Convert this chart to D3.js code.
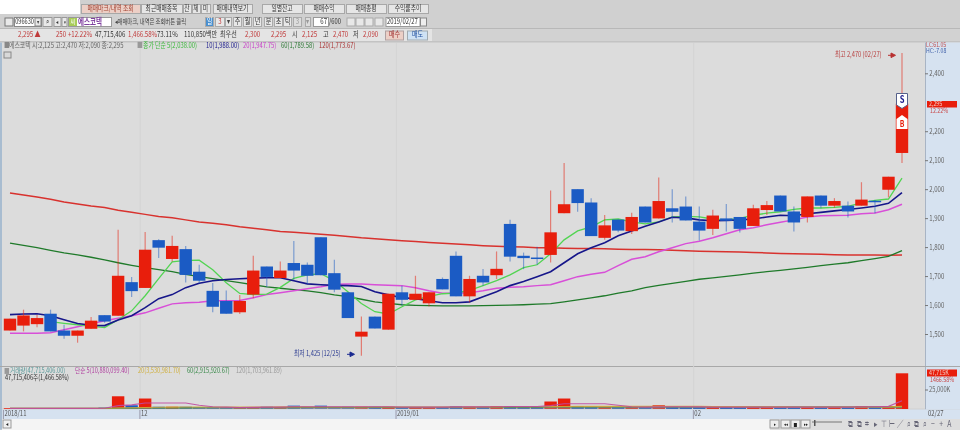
<!DOCTYPE html>
<html><head><meta charset="utf-8">
<script src="https://cdnjs.cloudflare.com/ajax/libs/d3/7.8.5/d3.min.js"></script>
<style>
html,body{margin:0;padding:0;background:#d0d0d0;overflow:hidden}
svg{display:block;filter:blur(0.3px)}
text{font-family:"Noto Sans CJK KR","Noto Sans",sans-serif}
</style></head><body><svg id="c" width="960" height="430"></svg>
<script>
const opens=[1512,1529,1534,1570,1512,1494,1518,1565,1563,1679,1659,1824,1759,1793,1715,1649,1614,1575,1636,1733,1693,1745,1739,1834,1710,1644,1491,1560,1515,1644,1618,1606,1690,1770,1630,1701,1703,1880,1770,1764,1773,1917,2000,1954,1832,1895,1855,1940,1899,1934,1940,1888,1863,1899,1904,1873,1928,1978,1923,1904,1978,1943,1943,1943,1960,1998,2125];
const closes=[1553,1564,1555,1509,1494,1512,1546,1543,1701,1648,1791,1798,1804,1704,1684,1594,1570,1614,1719,1697,1719,1719,1701,1703,1653,1555,1508,1519,1639,1618,1639,1644,1654,1630,1690,1678,1725,1767,1762,1759,1851,1948,1952,1838,1875,1857,1904,1885,1959,1922,1892,1857,1909,1891,1863,1934,1945,1923,1885,1975,1943,1959,1923,1964,1955,2043,2295];
const highs=[1553,1584,1566,1584,1532,1512,1559,1565,1860,1697,1852,1827,1839,1804,1739,1676,1650,1635,1770,1733,1750,1821,1747,1834,1756,1644,1560,1560,1639,1667,1701,1644,1695,1785,1701,1724,1785,1894,1781,1801,1995,2090,2000,1969,1911,1895,1919,1940,2040,2000,1975,1940,1929,1949,1904,1946,1959,1978,1940,1975,1978,1969,1957,2024,1963,2043,2470];
const lows=[1512,1509,1523,1509,1484,1470,1518,1539,1563,1628,1659,1762,1750,1678,1676,1575,1570,1569,1623,1662,1693,1687,1673,1703,1644,1555,1425,1519,1515,1598,1618,1595,1654,1630,1609,1667,1690,1750,1724,1739,1747,1917,1922,1838,1825,1851,1845,1885,1899,1885,1892,1823,1842,1854,1850,1873,1911,1923,1854,1885,1934,1936,1902,1943,1917,1972,2090];
const ma5=[null,null,null,1543,1537,1532,1527,1522,1549,1580,1632,1691,1749,1754,1755,1722,1677,1640,1636,1638,1661,1692,1704,1708,1684,1646,1605,1577,1569,1594,1618,1630,1639,1641,1651,1667,1684,1704,1729,1739,1777,1825,1856,1870,1894,1897,1887,1880,1887,1904,1906,1904,1897,1894,1899,1910,1917,1922,1930,1935,1935,1937,1941,1953,1961,1966,2038];
const ma10=[1567,1569,1570,1563,1549,1536,1530,1529,1548,1563,1591,1622,1636,1660,1675,1684,1688,1691,1693,1694,1694,1684,1673,1670,1668,1667,1664,1646,1635,1625,1622,1615,1608,1608,1611,1629,1646,1667,1681,1698,1715,1746,1777,1798,1815,1839,1856,1872,1887,1903,1901,1894,1891,1892,1894,1897,1904,1910,1908,1915,1920,1925,1930,1935,1941,1951,1988];
const ma20=[1503,1503,1503,1504,1515,1525,1535,1546,1554,1563,1573,1589,1604,1608,1610,1615,1615,1616,1625,1636,1642,1649,1656,1663,1672,1673,1673,1670,1668,1667,1660,1649,1641,1641,1642,1649,1658,1661,1663,1667,1670,1684,1698,1706,1713,1736,1758,1767,1784,1798,1812,1820,1832,1846,1860,1867,1877,1886,1894,1904,1908,1909,1910,1915,1918,1929,1948];
const ma60=[1814,1806,1798,1789,1780,1773,1765,1756,1746,1737,1729,1722,1715,1706,1698,1691,1684,1677,1670,1663,1658,1653,1649,1643,1635,1629,1620,1611,1606,1601,1599,1598,1597,1597,1597,1598,1599,1600,1601,1603,1605,1611,1618,1625,1632,1641,1649,1660,1668,1675,1682,1689,1694,1699,1704,1710,1715,1720,1725,1730,1736,1741,1746,1753,1760,1768,1788];
const ma120=[1987,1980,1973,1965,1956,1949,1942,1937,1927,1920,1913,1906,1901,1894,1887,1882,1877,1870,1865,1860,1854,1851,1848,1844,1841,1837,1832,1829,1825,1822,1819,1816,1813,1811,1808,1805,1803,1801,1800,1798,1798,1796,1795,1795,1794,1793,1792,1792,1791,1789,1787,1786,1785,1784,1783,1781,1780,1778,1777,1776,1775,1774,1773,1773,1773,1772,1773];
const volumes=[1,1,1,1,1,1,1.2,1.8,17,5,14,3,3,3,2,2,2,2,2.5,3,2.5,4.5,3,4.5,3,3,3,3,3,2.5,2.5,2.5,2.5,3.5,3,3,4,4,3,3,10,14,4,3,2.5,2.5,2.5,2.5,5,3,2.5,2.5,2.5,2.5,2.5,2.5,2.5,2.5,2.5,2.5,2.5,2.5,2.5,3.5,3,4,47.7];
const volMa5=[.8,.8,.8,.8,.8,.8,.9,1,4.5,5.5,8,8,8,8,5,3,2.5,2,2.2,2.5,2.5,3,3,3,3,3,3,3,3,2.5,2.5,2.5,2.5,2.8,2.8,2.8,3,3.3,3.3,3.3,4.5,7,7,7,7,5,3,2.5,2.8,3,3,2.8,2.5,2.5,2.5,2.5,2.5,2.5,2.5,2.5,2.5,2.5,2.5,2.8,3,3.5,11];
const volMa20=[.9,.9,.9,.9,.9,.9,.9,1,1.4,1.7,2.1,2.4,2.5,2.6,2.6,2.6,2.6,2.6,2.6,2.6,2.8,2.8,2.8,2.7,2.7,2.7,2.7,2.7,2.7,2.7,2.7,2.7,2.7,2.7,2.7,2.8,2.9,3,3,3,3.2,3.4,3.5,3.5,3.5,3.5,3.5,3.5,3.5,3.5,3.5,3.5,3.4,3.3,3.2,3,2.9,2.8,2.7,2.6,2.6,2.6,2.6,2.6,2.7,2.8,3.5];
const volMa60=[.8,.8,.8,.8,.8,.8,.8,.8,1.1,1.2,1.3,1.4,1.5,1.5,1.6,1.6,1.7,1.7,1.7,1.8,1.9,1.9,2,2,2.1,2.1,2.1,2.2,2.2,2.2,2.2,2.3,2.3,2.3,2.4,2.4,2.4,2.5,2.5,2.5,2.6,2.7,2.7,2.7,2.7,2.8,2.8,2.8,2.8,2.8,2.8,2.8,2.8,2.8,2.8,2.8,2.8,2.8,2.8,2.8,2.8,2.8,2.8,2.8,2.8,2.8,2.9];
const volMa120=[.7,.7,.7,.7,.7,.7,.7,.7,.9,.9,1,1,1,1,1,1,1.1,1.1,1.1,1.1,1.1,1.2,1.2,1.2,1.2,1.2,1.2,1.3,1.3,1.3,1.3,1.3,1.3,1.3,1.4,1.4,1.4,1.4,1.4,1.4,1.5,1.5,1.5,1.5,1.5,1.5,1.5,1.5,1.5,1.6,1.6,1.6,1.6,1.6,1.6,1.6,1.6,1.6,1.6,1.6,1.6,1.6,1.6,1.6,1.6,1.6,1.7];
const priceTicks=[2400,2200,2100,2000,1900,1800,1700,1600,1500];
const dateLabels=[{i:-0.45,t:"2018/11"},{i:9.65,t:"12"},{i:28.6,t:"2019/01"},{i:50.6,t:"02"}];
const topButtons=[["매매마크/내역 조회",81,59,"#eccfc6"],["최근매매종목",141,41,"#e6e6e6"],["잔",183,8,"#e6e6e6"],["체",192,8,"#e6e6e6"],["미",201,9,"#e6e6e6"],["매매내역보기",213,39,"#e6e6e6"],["일별잔고",262,40,"#e6e6e6"],["매매수익",304,40,"#e6e6e6"],["매매총평",346,40,"#e6e6e6"],["수익률추이",388,40,"#e6e6e6"]];
const periodButtons=[["일",205,8,"#4a90d0","#fff"],["3",215,9,"#e8e8e8","#c03030"],["▾",225,6,"#e8e8e8","#444"],["주",233,8,"#e8e8e8","#333"],["월",243,8,"#e8e8e8","#333"],["년",253,8,"#e8e8e8","#333"],["분",264,8,"#e8e8e8","#333"],["초",274,8,"#e8e8e8","#333"],["틱",283,8,"#e8e8e8","#333"],["3",293,8,"#dcdcdc","#999"],["▾",305,5,"#dcdcdc","#999"]];
const quoteTexts=[["2,295 ▲",18,"#c03a3a"],["250",56,"#c03a3a"],["+12.22%",68,"#c03a3a"],["47,715,406",95,"#333"],["1,466.58%",128,"#c03a3a"],["73.11%",157,"#333"],["110,850백만",184,"#333"],["최우선",220,"#333"],["2,300",245,"#c03a3a"],["2,295",271,"#c03a3a"],["시",292,"#333"],["2,125",302,"#c03a3a"],["고",323,"#333"],["2,470",333,"#c03a3a"],["저",353,"#333"],["2,090",363,"#c03a3a"]];
const priceLegend=[["■",137,"#999"],["종가 단순 5(2,038.00)",143,"#3cb83c"],["10(1,988.00)",206,"#1a1a8c"],["20(1,947.75)",243,"#c840c8"],["60(1,789.58)",281,"#2e7a36"],["120(1,773.67)",319,"#a83030"]];
const volLegend=[["■",4,"#999"],["거래량(47,715,406.00)",10,"#5a9a9a"],["단순 5(10,880,099.40)",75,"#b040a0"],["20(3,530,981.70)",138,"#d0b040"],["60(2,915,920.67)",187,"#3a8a4a"],["120(1,703,961.89)",236,"#999"]];

const svg=d3.select("#c");
const U="#e81e0c",D="#1b5bc4",SX=0.76;
const x=d3.scaleLinear().domain([0,66]).range([10,902]);
const y=d3.scaleLinear().domain([1500,2400]).range([334,73.3]);
const yV=d3.scaleLinear().domain([0,47.7]).range([409,373.3]);

function rect(g,a,b,w,h,f,s){return g.append("rect").attr("x",a).attr("y",b).attr("width",w).attr("height",h).attr("fill",f).attr("stroke",s||"none");}
function txt(g,t,a,b,f,sz,an,w){return g.append("text").text(t).attr("transform",`translate(${a},${b}) scale(${SX},1)`).attr("fill",f).attr("font-size",sz||8).attr("text-anchor",an||"start").attr("font-weight",w||400).attr("dominant-baseline","middle");}

// chrome
rect(svg,0,0,960,430,"#d0d0d0");
rect(svg,0,0,80,14,"#ffffff");
rect(svg,0,28,960,1,"#b8b8b8");
rect(svg,0,29,960,13,"#d2d2d2");
rect(svg,0,29,432,12,"#e4e4e4");
rect(svg,0,41.5,960,1,"#b4b4b4");

const hdr=svg.append("g");
topButtons.forEach(b=>{rect(hdr,b[1]+.5,4.5,b[2],9,b[3],"#a8a8a8");txt(hdr,b[0],b[1]+b[2]/2,9.3,b[0].startsWith("매매마크")?"#a04030":"#333",7.6,"middle");});
rect(hdr,5,18,8,8,"#e8e8e8","#777");
rect(hdr,14.5,17.5,27,9,"#fff","#888");txt(hdr,"096630",15.2,22.3,"#333",7.4);
rect(hdr,35,18,6,8,"#e8e8e8","#888");txt(hdr,"▾",38,22.3,"#444",6,"middle");
rect(hdr,43,17.5,9,9,"#e8e8e8","#999");txt(hdr,"⌕",47.5,22,"#555",8,"middle");
rect(hdr,54,17.5,7,9,"#e8e8e8","#999");txt(hdr,"◂",57.5,22.3,"#333",6,"middle");
rect(hdr,62,17.5,5,9,"#e8e8e8","#999");txt(hdr,"▾",64.5,22.3,"#333",5,"middle");
rect(hdr,68.5,17.5,43,9,"#fff","#999");rect(hdr,69,18,8,8,"#a8cc58");txt(hdr,"씨",73,22.3,"#fff",7,"middle");
txt(hdr,"에스코텍",78,22.3,"#8040a0",8.6,"start",700);
txt(hdr,"◂매매마크, 내역은 조회버튼 클릭",115,22.3,"#444",7);
periodButtons.forEach(b=>{rect(hdr,b[1]+.5,17.5,b[2],9,b[3],"#aaa");txt(hdr,b[0],b[1]+b[2]/2+.5,22.3,b[4],8,"middle");});
rect(hdr,313.5,17.5,15,9,"#fff","#999");txt(hdr,"67",327,22.3,"#333",8,"end");txt(hdr,"/600",329,22.3,"#333",7.6);
[347,356,365,375].forEach(a=>rect(hdr,a,18,8,8,"#e8e8e8","#aaa"));
rect(hdr,386,17.5,34,9,"#fff","#999");txt(hdr,"2019/02/27",387,22.3,"#333",7.8);rect(hdr,420.5,18,6,8,"#eee","#888");

const qt=svg.append("g");
quoteTexts.forEach(q=>txt(qt,q[0],q[1],35.3,q[2],8));
rect(qt,385.5,31,18,9,"#eccfc6","#b0a0a0");txt(qt,"매수",394.5,35.3,"#a03030",8,"middle");
rect(qt,407.5,31,20,9,"#cfe2f4","#a0aab0");txt(qt,"매도",417.5,35.3,"#2050a0",8,"middle");

// panels
rect(svg,0,42.5,960,366,"#dcdcdc");
rect(svg,0,42.5,2,387,"#a8bcd0");
rect(svg,925,42.5,35,367,"#d6e2f0");
rect(svg,925,42.5,1,367,"#a8b4c4");
rect(svg,0,366,960,1,"#a8a8a8");
rect(svg,2,409.5,958,10,"#d6e2f0");
rect(svg,2,419,958,11,"#f4f4f4");
rect(svg,770,419,190,11,"#dedede");

// vertical grid
const grid=svg.append("g");
dateLabels.slice(1).forEach(d=>grid.append("line").attr("x1",x(d.i)-.2).attr("x2",x(d.i)-.2).attr("y1",43).attr("y2",409).attr("stroke","#d4d4d4").attr("stroke-width",1));

// legend
const lg=svg.append("g");
txt(lg,"■",4,46.3,"#888",7.6);
txt(lg,"에스코텍 시:2,125 고:2,470 저:2,090 종:2,295",9,46.3,"#666",7.8);
priceLegend.forEach(l=>txt(lg,l[0],l[1],46.3,l[2],7.7));
rect(lg,4,52,7,6,"#d8d8d8","#888");

// MAs
const line=d3.line().defined(d=>d!=null).x((d,i)=>x(i)).y(d=>y(d));
const L=svg.append("g").attr("fill","none");
[[ma120,"#d8322e",1.5],[ma60,"#1f7a2a",1.3],[ma20,"#d84fd8",1.5],[ma5,"#52d452",1.3],[ma10,"#16168a",1.6]].forEach(s=>{
  L.append("path").datum(s[0]).attr("d",line).attr("stroke",s[1]).attr("stroke-width",s[2]);
});

// candles
const col=i=>closes[i]>=opens[i]?U:D;
const cs=svg.append("g").selectAll("g").data(d3.range(opens.length)).join("g");
cs.append("line").attr("x1",i=>x(i)).attr("x2",i=>x(i)).attr("y1",i=>y(highs[i])).attr("y2",i=>y(lows[i]))
  .attr("stroke",i=>col(i)).attr("stroke-opacity",.5).attr("stroke-width",1.2);
cs.append("rect").attr("x",i=>x(i)-6.2).attr("width",12.4)
  .attr("y",i=>y(Math.max(opens[i],closes[i])))
  .attr("height",i=>Math.max(1.5,Math.abs(y(opens[i])-y(closes[i]))))
  .attr("fill",i=>col(i));

// S/B markers
const mk=svg.append("g");
mk.append("path").attr("d","M896.5 93.5H907.5V105L902 108.5L896.5 105Z").attr("fill","#fff").attr("stroke","#55608a");
txt(mk,"S",902,100.5,"#1a1a8c",10,"middle",700);
mk.append("path").attr("d","M896.5 119L902 115L907.5 119V129H896.5Z").attr("fill","#fff");
txt(mk,"B",902,125,"#e81e0c",9,"middle",700);

// annotations
const an=svg.append("g");
txt(an,"최고 2,470 (02/27)",835,55.3,"#b84040",7.6);
an.append("path").attr("d","M888 55.3H893M891 53L895.5 55.3L891 57.6Z").attr("stroke","#b83030").attr("fill","#b83030");
txt(an,"최저 1,425 (12/25)",294,354.3,"#2a3a90",7.6);
an.append("path").attr("d","M347 354.3H352M350 352L354.5 354.3L350 356.6Z").attr("stroke","#1a2a90").attr("fill","#1a2a90");

// y axis
const ax=svg.append("g").attr("transform","translate(925,0)").call(d3.axisRight(y).tickValues(priceTicks).tickSize(3).tickFormat(d3.format(",")));
ax.select(".domain").remove();
ax.selectAll("line").attr("stroke","#777");
ax.selectAll("text").attr("fill","#666").attr("font-size",8).attr("x",5.5).attr("transform",`scale(${SX},1)`);

const rp=svg.append("g");
txt(rp,"LC:61.05",926,45.5,"#c05050",6.8);
txt(rp,"HC:-7.08",926,51.5,"#4060a8",6.8);
rect(rp,927,101,30,6.5,"#e81e0c");
txt(rp,"2,295",929,104,"#f4c8c0",7);
txt(rp,"12.22%",930,111,"#c84848",7);

// volume
const vb=svg.append("g");
vb.selectAll("rect").data(d3.range(volumes.length)).join("rect")
  .attr("x",i=>x(i)-6.2).attr("width",12.4)
  .attr("y",i=>yV(volumes[i])).attr("height",i=>409-yV(volumes[i]))
  .attr("fill",i=>col(i));
const lv=d3.line().x((d,i)=>x(i)).y(d=>yV(d));
[[volMa120,"#999999"],[volMa60,"#3a8a4a"],[volMa20,"#d0a838"],[volMa5,"#c04aa0"]].forEach(s=>svg.append("path").datum(s[0]).attr("d",lv).attr("fill","none").attr("stroke",s[1]).attr("stroke-width",1.1).attr("opacity",.9));

const vl=svg.append("g");
volLegend.forEach(l=>txt(vl,l[0],l[1],370.6,l[2],7.4));
txt(vl,"47,715,406주(1,466.58%)",5,378.2,"#333",7.4);
rect(vl,927,369.5,30,7,"#e81e0c");
txt(vl,"47,715K",929,373,"#f4c8c0",7);
txt(vl,"1466.58%",930,380,"#c84848",7);
vl.append("line").attr("x1",925).attr("x2",928).attr("y1",390).attr("y2",390).attr("stroke","#777");
txt(vl,"25,000K",929,390,"#666",7.6);

// dates
const dt=svg.append("g");
dateLabels.forEach(d=>{
  dt.append("line").attr("x1",x(d.i)-.5).attr("x2",x(d.i)-.5).attr("y1",410).attr("y2",419).attr("stroke","#99a");
  txt(dt,d.t,x(d.i)+.5,414.3,"#555",7.8);
});
txt(dt,"02/27",928,414.3,"#555",7.8);

// bottom toolbar
const tb=svg.append("g");
rect(tb,3,420,8,8,"#f0f0f0","#999");txt(tb,"◂",7,424.3,"#222",6,"middle");
[770,781,791,801].forEach((a,i)=>{rect(tb,a,420,9,8,"#eee","#999");txt(tb,["▸","◂◂","■","▸▸"][i],a+4.5,424.3,"#222",5,"middle");});
tb.append("line").attr("x1",812).attr("x2",842).attr("y1",422).attr("y2",422).attr("stroke","#777");
tb.append("rect").attr("x",814).attr("y",420).attr("width",1.5).attr("height",6).attr("fill","#555");
["⧉","⧉","⌗","▸","⊤","⊢","∕","⌕","⧉","⌕","−","+","A"].forEach((g,i)=>txt(tb,g,851+i*8.2,424.3,"#667",9,"middle"));
</script></body></html>
